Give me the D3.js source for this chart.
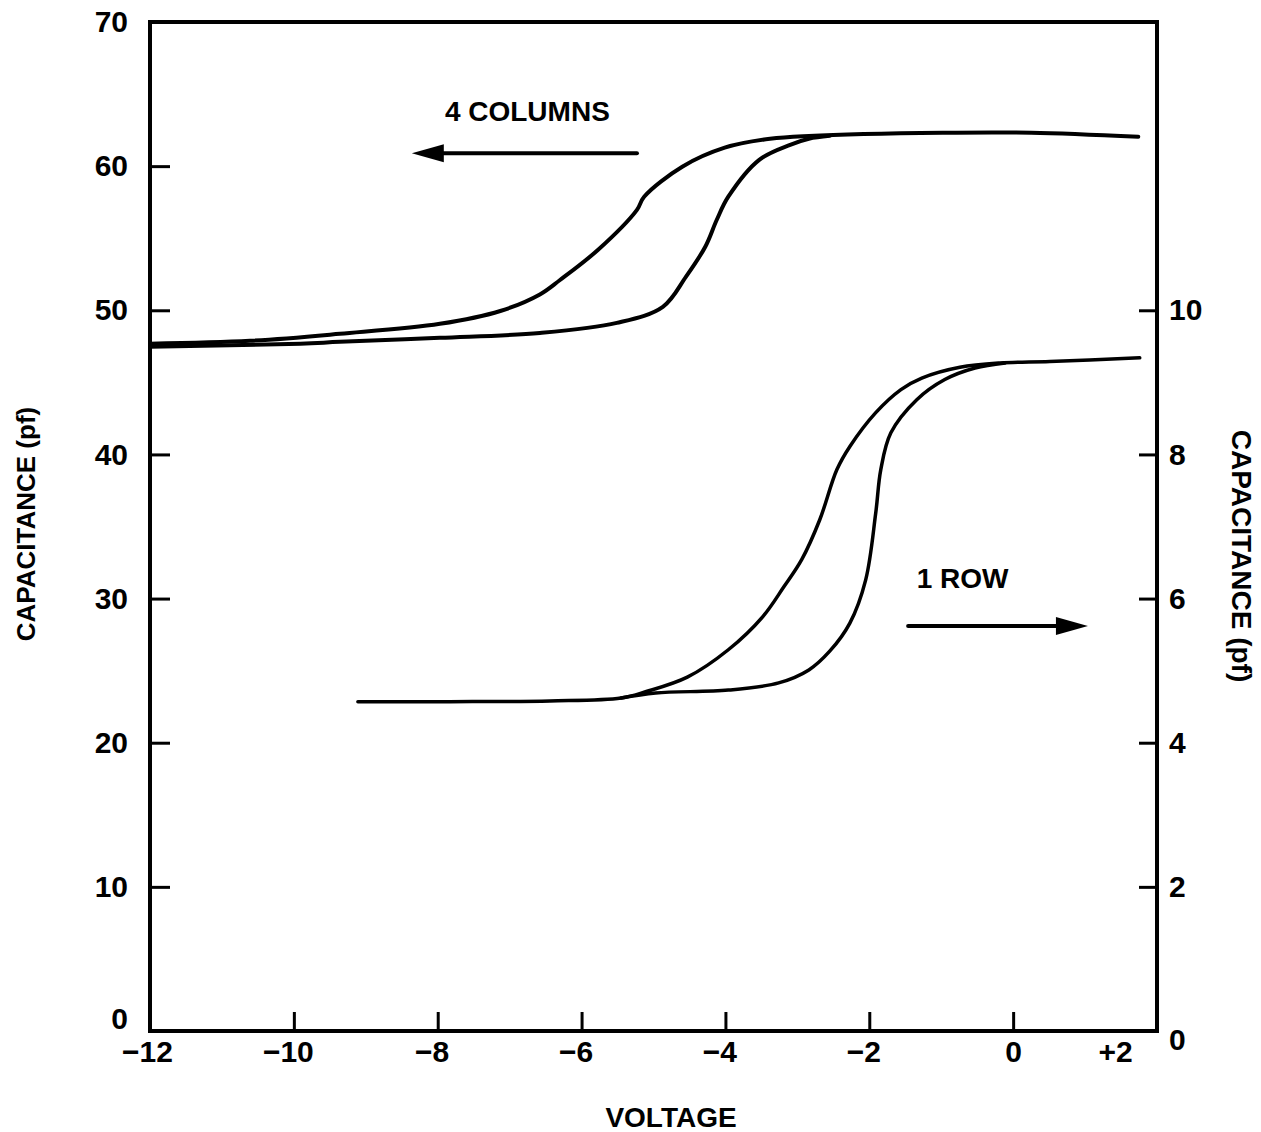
<!DOCTYPE html>
<html>
  <head>
    <meta charset="utf-8" />
    <title>capacitance vs voltage</title>
    <script src="https://d3js.org/d3.v7.min.js"></script>
    <style>
      body { margin: 0; background: #fff; }
      text { font-family: "Liberation Sans", Arial, Helvetica, sans-serif; font-weight: bold; fill: #000; }
    </style>
  </head>
  <body>
    <svg id="chart"></svg>
    <script>
      // tick values
      var voltTicks = [-12, -10, -8, -6, -4, -2, 0, 2];
      var leftTicks = [0, 10, 20, 30, 40, 50, 60, 70];
      var rightTicks = [0, 2, 4, 6, 8, 10];

      // 4 COLUMNS loop (left axis, pf)
      var colsOuterV = [-12, -10.61, -9.36, -7.97, -7.13, -6.58, -6.30, -5.77, -5.23, -5.13, -4.60, -4.01, -3.38, -2.84, -0.98, 0.25, 1.74];
      var colsOuterC = [47.68, 47.88, 48.37, 49.06, 49.95, 51.1, 52.1, 54.20, 56.97, 57.88, 59.96, 61.28, 61.90, 62.10, 62.32, 62.32, 62.04];
      var colsInnerV = [-12, -9.91, -9.36, -7.97, -6.58, -5.51, -4.87, -4.55, -4.28, -4.12, -3.96, -3.53, -3.10, -2.84, -2.55];
      var colsInnerC = [47.47, 47.68, 47.81, 48.09, 48.43, 49.13, 50.24, 52.32, 54.41, 56.28, 57.88, 60.44, 61.48, 61.90, 62.10];

      // 1 ROW loop (right axis, pf)
      var rowOuterV = [-9.11, -7.83, -6.44, -5.45, -5.10, -4.53, -3.96, -3.48, -3.19, -2.94, -2.69, -2.45, -2.27, -1.91, -1.56, -1.27, -0.74, -0.18, 0.51, 1.76];
      var rowOuterC = [4.57, 4.57, 4.58, 4.62, 4.71, 4.91, 5.29, 5.75, 6.16, 6.54, 7.09, 7.79, 8.11, 8.58, 8.90, 9.06, 9.21, 9.27, 9.29, 9.34];
      var rowInnerV = [-5.45, -4.97, -3.96, -3.26, -2.84, -2.55, -2.27, -2.05, -1.91, -1.84, -1.70, -1.34, -0.95, -0.53, -0.11];
      var rowInnerC = [4.62, 4.69, 4.73, 4.83, 5.01, 5.27, 5.66, 6.26, 7.19, 7.79, 8.30, 8.76, 9.04, 9.20, 9.27];

      var width = 1261, height = 1132;
      var margin = { top: 22, right: 104, bottom: 101, left: 150 };

      var svg = d3.select("#chart").attr("width", width).attr("height", height);

      var x = d3.scaleLinear().domain([-12, 2]).range([margin.left, width - margin.right]);
      var y = d3.scaleLinear().domain([0, 70]).range([height - margin.bottom, margin.top]);
      var y2 = d3.scaleLinear().domain([0, 14]).range([height - margin.bottom, margin.top]);

      function zip(vs, cs) {
        return vs.map(function(v, i) { return [v, cs[i]]; });
      }

      // axes
      var xAxis = d3.axisBottom(x).tickValues(voltTicks).tickSizeInner(-19).tickSizeOuter(0).tickPadding(10)
        .tickFormat(function(d) { return d > 0 ? "+" + d : (d < 0 ? "\u2212" + (-d) : "0"); });
      var gx = svg.append("g").attr("transform", "translate(0," + y(0) + ")").call(xAxis);
      gx.selectAll("text").filter(function(d) { return d === 2; }).attr("dx", -42);
      gx.selectAll("text").filter(function(d) { return d < 0 && d > -12; }).attr("dx", -6);
      gx.selectAll("text").filter(function(d) { return d === -12; }).attr("dx", -3);

      var yAxis = d3.axisLeft(y).tickValues(leftTicks).tickSizeInner(-20).tickSizeOuter(0).tickPadding(22);
      var gy = svg.append("g").attr("transform", "translate(" + x(-12) + ",0)").call(yAxis);
      gy.selectAll("text").filter(function(d) { return d === 0; }).attr("dy", "-0.08em");

      var yAxis2 = d3.axisRight(y2).tickValues(rightTicks).tickSizeInner(-18).tickSizeOuter(0).tickPadding(12);
      var gy2 = svg.append("g").attr("transform", "translate(" + x(2) + ",0)").call(yAxis2);
      gy2.selectAll("text").filter(function(d) { return d === 0; }).attr("dy", "0.6em");

      [gx, gy, gy2].forEach(function(g) {
        g.select(".domain").remove();
        g.selectAll("line").attr("stroke", "#000").attr("stroke-width", 3);
        g.selectAll("text").style("font-size", "30px").attr("fill", "#000");
      });

      // frame
      svg.append("rect")
        .attr("x", x(-12)).attr("y", y(70))
        .attr("width", x(2) - x(-12)).attr("height", y(0) - y(70))
        .attr("fill", "none").attr("stroke", "#000").attr("stroke-width", 4);

      // curves
      var smooth = d3.curveCatmullRom.alpha(0.5);
      var lineL = d3.line().x(function(d) { return x(d[0]); }).y(function(d) { return y(d[1]); }).curve(smooth);
      var lineR = d3.line().x(function(d) { return x(d[0]); }).y(function(d) { return y2(d[1]); }).curve(smooth);

      [zip(colsOuterV, colsOuterC), zip(colsInnerV, colsInnerC)].forEach(function(pts) {
        svg.append("path").attr("d", lineL(pts)).attr("fill", "none")
          .attr("stroke", "#000").attr("stroke-width", 4).attr("stroke-linecap", "round");
      });
      [zip(rowOuterV, rowOuterC), zip(rowInnerV, rowInnerC)].forEach(function(pts) {
        svg.append("path").attr("d", lineR(pts)).attr("fill", "none")
          .attr("stroke", "#000").attr("stroke-width", 3.5).attr("stroke-linecap", "round");
      });

      // annotations, placed in data units
      function arrow(v0, v1, c) {
        var x0 = x(v0), x1 = x(v1), yy = y(c);
        var dir = x1 > x0 ? 1 : -1;
        var head = 32;
        svg.append("line").attr("x1", x0).attr("y1", yy).attr("x2", x1 - dir * head * 0.8).attr("y2", yy)
          .attr("stroke", "#000").attr("stroke-width", 4).attr("stroke-linecap", "round");
        svg.append("path")
          .attr("d", "M" + x1 + "," + yy + "L" + (x1 - dir * head) + "," + (yy - 9) +
                     "L" + (x1 - dir * head) + "," + (yy + 9) + "Z")
          .attr("fill", "#000");
      }

      svg.append("text").attr("x", x(-7.9)).attr("y", y(63.1)).style("font-size", "28px").text("4 COLUMNS");
      arrow(-5.23, -8.36, 60.9);

      svg.append("text").attr("x", x(-1.34)).attr("y", y(30.7)).style("font-size", "28px").text("1 ROW");
      arrow(-1.46, 1.04, 28.1);

      // axis titles
      svg.append("text").attr("x", 671).attr("y", 1127)
        .attr("text-anchor", "middle").style("font-size", "28px").text("VOLTAGE");

      svg.append("text").attr("transform", "translate(35,524) rotate(-90)")
        .attr("text-anchor", "middle").style("font-size", "26px").text("CAPACITANCE (pf)");

      svg.append("text").attr("transform", "translate(1232,556) rotate(90)")
        .attr("text-anchor", "middle").style("font-size", "28px").text("CAPACITANCE (pf)");
    </script>
  </body>
</html>
